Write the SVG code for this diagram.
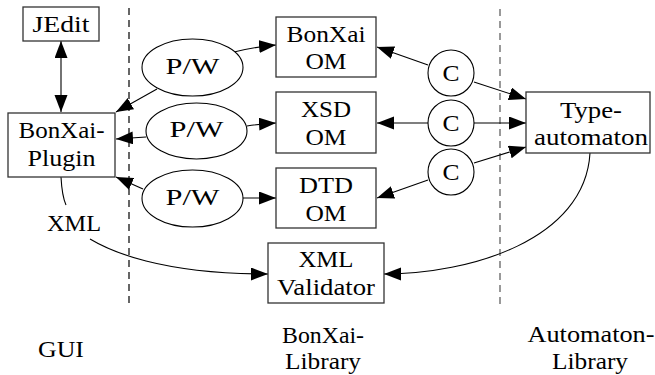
<svg xmlns="http://www.w3.org/2000/svg" width="655" height="375" viewBox="0 0 655 375">
<style>
text{font-size:23px;fill:#000;text-anchor:middle}
.box{fill:#fff;stroke:#333;stroke-width:1.3}
.ell{fill:#fff;stroke:#000;stroke-width:1.1}
.edge{fill:none;stroke:#000;stroke-width:1.1}
.arr{marker-end:url(#ah)}
.dash{stroke:#000;stroke-width:1.2;stroke-dasharray:7 5;fill:none}
</style>
<defs>
<marker id="ah" markerUnits="userSpaceOnUse" markerWidth="18" markerHeight="14" refX="17" refY="6.5" orient="auto-start-reverse">
<path d="M0,0 L17,6.5 L0,13 z" fill="#000"/>
</marker>
</defs>
<rect width="655" height="375" fill="#fff"/>
<g id="separators">
<line class="dash" x1="129" y1="8" x2="129" y2="304"/>
<line class="dash" x1="500" y1="9" x2="500" y2="304" style="stroke:#555"/>
</g>
<g id="connectors">
<path class="edge" d="M61,41 L61,112" marker-start="url(#ah)" marker-end="url(#ah)"/>
<path class="edge arr" d="M234,52 Q254,47 276,45"/>
<path class="edge arr" d="M157,89 L116,112"/>
<path class="edge arr" d="M247,126 Q260,124 276,123"/>
<path class="edge arr" d="M146,137 L116,139"/>
<path class="edge arr" d="M243,198 L276,198"/>
<path class="edge arr" d="M143,189 L116,177"/>
<path class="edge arr" d="M428,65 L377,47"/>
<path class="edge arr" d="M474,82 L526,99"/>
<path class="edge arr" d="M428,123 L377,123"/>
<path class="edge arr" d="M474,123 L526,123"/>
<path class="edge arr" d="M428,180 L377,198"/>
<path class="edge arr" d="M474,163 L526,147"/>
<path class="edge" d="M61,177 Q62,196 66,205"/>
<path class="edge arr" d="M90,239 C110,251 160,274 268,274"/>
<path class="edge arr" d="M590,153 C585,240 470,274 384,274"/>
</g>
<g font-family="Liberation Serif, serif">
<g id="jedit">
<rect class="box" x="23" y="7" width="76" height="34"/>
<text x="61" y="32" textLength="57" lengthAdjust="spacingAndGlyphs">JEdit</text>
</g>
<g id="plugin">
<rect class="box" x="8" y="113" width="107" height="64"/>
<text x="61.5" y="138" textLength="86" lengthAdjust="spacingAndGlyphs">BonXai-</text>
<text x="61.5" y="166" textLength="68" lengthAdjust="spacingAndGlyphs">Plugin</text>
</g>
<g id="pw1">
<ellipse class="ell" cx="192.5" cy="67.5" rx="50.5" ry="28.5"/>
<text x="192.5" y="74" textLength="54" lengthAdjust="spacingAndGlyphs">P/W</text>
</g>
<g id="pw2">
<ellipse class="ell" cx="196.5" cy="131" rx="50.5" ry="28"/>
<text x="196.5" y="137" textLength="54" lengthAdjust="spacingAndGlyphs">P/W</text>
</g>
<g id="pw3">
<ellipse class="ell" cx="192.5" cy="198.5" rx="50.5" ry="28.5"/>
<text x="192.5" y="205" textLength="54" lengthAdjust="spacingAndGlyphs">P/W</text>
</g>
<g id="bonxai-om">
<rect class="box" x="276" y="17" width="100" height="60"/>
<text x="326" y="42" textLength="79" lengthAdjust="spacingAndGlyphs">BonXai</text>
<text x="326" y="69" textLength="41" lengthAdjust="spacingAndGlyphs">OM</text>
</g>
<g id="xsd-om">
<rect class="box" x="276" y="92" width="100" height="61"/>
<text x="326" y="117" textLength="50" lengthAdjust="spacingAndGlyphs">XSD</text>
<text x="326" y="145" textLength="41" lengthAdjust="spacingAndGlyphs">OM</text>
</g>
<g id="dtd-om">
<rect class="box" x="276" y="168" width="100" height="60"/>
<text x="326" y="193" textLength="54" lengthAdjust="spacingAndGlyphs">DTD</text>
<text x="326" y="221" textLength="41" lengthAdjust="spacingAndGlyphs">OM</text>
</g>
<g id="validator">
<rect class="box" x="268" y="243" width="116" height="60"/>
<text x="326" y="267" textLength="55" lengthAdjust="spacingAndGlyphs">XML</text>
<text x="326" y="295" textLength="98" lengthAdjust="spacingAndGlyphs">Validator</text>
</g>
<g id="c1">
<circle class="ell" cx="451" cy="73" r="23"/>
<text x="451" y="81" textLength="17" lengthAdjust="spacingAndGlyphs">C</text>
</g>
<g id="c2">
<circle class="ell" cx="451" cy="123" r="23"/>
<text x="451" y="131" textLength="17" lengthAdjust="spacingAndGlyphs">C</text>
</g>
<g id="c3">
<circle class="ell" cx="451" cy="172" r="23"/>
<text x="451" y="180" textLength="17" lengthAdjust="spacingAndGlyphs">C</text>
</g>
<g id="typeautomaton">
<rect class="box" x="526" y="92" width="124" height="61"/>
<text x="591" y="118" textLength="62" lengthAdjust="spacingAndGlyphs">Type-</text>
<text x="591" y="145" textLength="114" lengthAdjust="spacingAndGlyphs">automaton</text>
</g>
<g id="labels">
<text x="74" y="231" textLength="54" lengthAdjust="spacingAndGlyphs">XML</text>
<text x="61" y="357" textLength="46" lengthAdjust="spacingAndGlyphs">GUI</text>
<text x="323" y="343" textLength="82" lengthAdjust="spacingAndGlyphs">BonXai-</text>
<text x="323" y="369" textLength="76" lengthAdjust="spacingAndGlyphs">Library</text>
<text x="591" y="342" textLength="127" lengthAdjust="spacingAndGlyphs">Automaton-</text>
<text x="590" y="369" textLength="76" lengthAdjust="spacingAndGlyphs">Library</text>
</g>
</g>
</svg>
